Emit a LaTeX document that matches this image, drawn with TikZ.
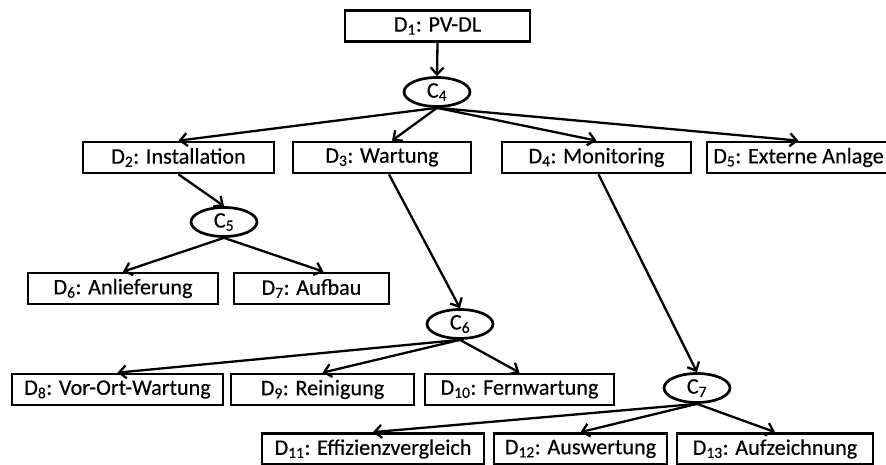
\documentclass[tikz,border=0pt]{standalone}
\usepackage{fontspec}
\setmainfont{Carlito}
\newfontfamily\lblfont{Carlito}[FakeBold=0.35]
\usetikzlibrary{arrows.meta,shapes.geometric,calc}
\begin{document}
\begin{tikzpicture}[x=1pt,y=-1pt,
  lbl/.style={font=\lblfont\fontsize{22.2}{26}\selectfont},
  box/.style={lbl,draw,line width=2.7pt,rectangle,inner sep=0pt,minimum height=31pt},
  cnode/.style={lbl,draw,ellipse,line width=2.7pt,inner sep=0pt,minimum width=66pt,minimum height=29pt},
  arr/.style={line width=2.3pt,-{Straight Barb[length=7pt,width=13pt,line width=2.3pt]}}]
\clip (0,0) rectangle (886,465);
\fill[white] (0,0) rectangle (886,465);
% top
\node[box,minimum width=185pt] (D1) at (437.5,26) {D\textsubscript{1}: PV-DL};
\node[cnode] (C4) at (437,92) {C\textsubscript{4}};
% level 2
\node[box,minimum width=191pt] (D2) at (178.5,157.5) {D\textsubscript{2}: Installation};
\node[box,minimum width=178pt] (D3) at (382,157.5) {D\textsubscript{3}: Wartung};
\node[box,minimum width=189pt] (D4) at (596.5,157.5) {D\textsubscript{4}: Monitoring};
\node[box,minimum width=183pt] (D5) at (798.5,157.5) {D\textsubscript{5}: Externe Anlage};
% C5 branch
\node[cnode] (C5) at (224,222) {C\textsubscript{5}};
\node[box,minimum width=190pt] (D6) at (123,288.5) {D\textsubscript{6}: Anlieferung};
\node[box,minimum width=155pt] (D7) at (311.5,288.5) {D\textsubscript{7}: Aufbau};
% C6 branch
\node[cnode] (C6) at (460,324) {C\textsubscript{6}};
\node[box,minimum width=211pt] (D8) at (117.5,389.5) {D\textsubscript{8}: Vor-Ort-Wartung};
\node[box,minimum width=183pt] (D9) at (322.5,389.5) {D\textsubscript{9}: Reinigung};
\node[box,minimum width=189pt] (D10) at (519.5,389.5) {D\textsubscript{10}: Fernwartung};
% C7 branch
\node[cnode] (C7) at (697,388) {C\textsubscript{7}};
\node[box,minimum width=222pt] (D11) at (373,449) {D\textsubscript{11}: Effizienzvergleich};
\node[box,minimum width=173pt] (D12) at (580.5,449) {D\textsubscript{12}: Auswertung};
\node[box,minimum width=196pt] (D13) at (775,449) {D\textsubscript{13}: Aufzeichnung};
% connectors
\draw[arr] (D1.south) -- (C4.north);
\draw[arr] (C4.south) -- (D2.north);
\draw[arr] (C4.south) -- ([xshift=10pt]D3.north);
\draw[arr] (C4.south) -- (D4.north);
\draw[arr] (C4.south) -- (D5.north);
\draw[arr] (D2.south) -- (C5.north);
\draw[arr] (C5.south) -- (D6.north);
\draw[arr] (C5.south) -- ([xshift=12pt]D7.north);
\draw[arr] ([xshift=7pt]D3.south) -- (C6.north);
\draw[arr] (C6.south) -- (D8.north);
\draw[arr] (C6.south) -- (D9.north);
\draw[arr] (C6.south) -- (D10.north);
\draw[arr] ([xshift=2pt]D4.south) -- (C7.north);
\draw[arr] (C7.south) -- (D11.north);
\draw[arr] (C7.south) -- (D12.north);
\draw[arr] (C7.south) -- (D13.north);
\end{tikzpicture}
\end{document}
